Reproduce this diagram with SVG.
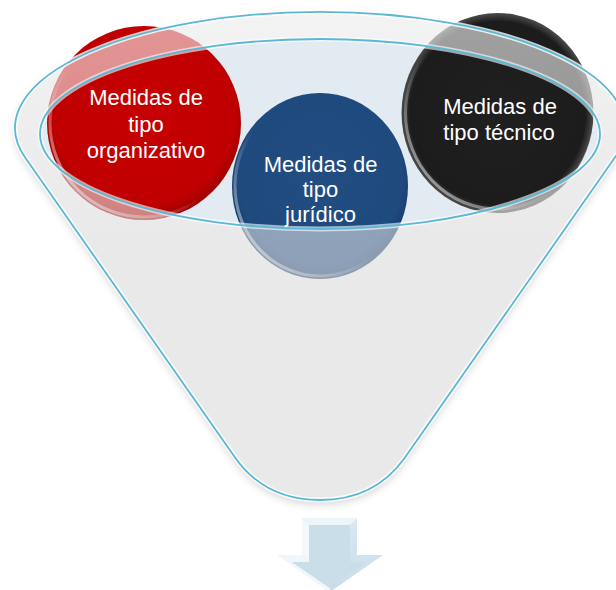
<svg xmlns="http://www.w3.org/2000/svg" width="616" height="590" viewBox="0 0 616 590">
  <defs>
    <style>
      .lbl { font-family: "Liberation Sans", Arial, sans-serif; font-size: 22px; fill: #ffffff; text-anchor: middle; }
      .rim { fill: none; stroke: url(#rimGlow); stroke-width: 3; }
      .outline { fill: none; stroke: #5bb8d4; stroke-width: 1.8; }
      .hilite { fill: none; stroke: #ffffff; stroke-width: 5; }
    </style>
    <radialGradient id="gRed" cx="50%" cy="45%" r="55%">
      <stop offset="0" stop-color="#c60000"/>
      <stop offset="0.85" stop-color="#c00000"/>
      <stop offset="1" stop-color="#9a0000"/>
    </radialGradient>
    <radialGradient id="gBlue" cx="50%" cy="45%" r="55%">
      <stop offset="0" stop-color="#224d82"/>
      <stop offset="0.85" stop-color="#1f4a7e"/>
      <stop offset="1" stop-color="#173a66"/>
    </radialGradient>
    <radialGradient id="gBlack" cx="50%" cy="50%" r="52%">
      <stop offset="0" stop-color="#202020"/>
      <stop offset="0.88" stop-color="#1c1c1c"/>
      <stop offset="0.96" stop-color="#4a4a4a"/>
      <stop offset="1" stop-color="#808080"/>
    </radialGradient>
    <linearGradient id="rimGlow" x1="1" y1="0" x2="0" y2="1">
      <stop offset="0" stop-color="#ffffff" stop-opacity="0"/>
      <stop offset="0.55" stop-color="#ffffff" stop-opacity="0"/>
      <stop offset="1" stop-color="#ffffff" stop-opacity="0.7"/>
    </linearGradient>
    <linearGradient id="band" gradientUnits="userSpaceOnUse" x1="0" y1="12" x2="0" y2="240">
      <stop offset="0" stop-color="#fafafa" stop-opacity="0.6"/>
      <stop offset="1" stop-color="#e9e9e9" stop-opacity="0.55"/>
    </linearGradient>
    <linearGradient id="arrowFace" x1="0" y1="0" x2="0" y2="1">
      <stop offset="0" stop-color="#d9e8f1"/>
      <stop offset="1" stop-color="#c9dde9"/>
    </linearGradient>
    <filter id="shadow" x="-10%" y="-10%" width="120%" height="125%">
      <feDropShadow dx="0" dy="4" stdDeviation="4" flood-color="#000000" flood-opacity="0.18"/>
    </filter>
  </defs>

  <rect width="616" height="590" fill="#ffffff"/>

  <g id="funnel">
    <path id="funnel-body" d="M 25.3,157.8 A 305 116 0 1 1 614.7,157.8 L 404.6,458 C 384,487 355,500 320,500 C 285,500 256,487 235.4,458 Z" fill="#e9e9e9" filter="url(#shadow)"/>
    <ellipse id="funnel-opening" cx="320" cy="134" rx="280" ry="95" fill="#e3ebf2"/>
  </g>

  <g id="node-organizativo">
    <circle cx="144" cy="123" r="97" fill="url(#gRed)"/>
    <circle cx="144" cy="123" r="94" class="rim"/>
    <text class="lbl" x="146" y="105">Medidas de</text>
    <text class="lbl" x="146" y="131.5">tipo</text>
    <text class="lbl" x="146" y="158">organizativo</text>
  </g>

  <g id="node-juridico">
    <ellipse cx="320" cy="186" rx="88" ry="93" fill="url(#gBlue)"/>
    <ellipse cx="320" cy="186" rx="85" ry="90" class="rim"/>
    <text class="lbl" x="320.5" y="172">Medidas de</text>
    <text class="lbl" x="320.5" y="197">tipo</text>
    <text class="lbl" x="320.5" y="222">jurídico</text>
  </g>

  <g id="node-tecnico">
    <ellipse cx="497.5" cy="113" rx="96" ry="100" fill="url(#gBlack)"/>
    <ellipse cx="497.5" cy="113" rx="92" ry="96" class="rim"/>
    <text class="lbl" x="500" y="114">Medidas de</text>
    <text class="lbl" x="499" y="140">tipo técnico</text>
  </g>

  <g id="funnel-front">
    <path d="M 25.3,157.8 A 305 116 0 1 1 614.7,157.8 L 404.6,458 C 384,487 355,500 320,500 C 285,500 256,487 235.4,458 Z M 40,134 A 280 95 0 1 0 600,134 A 280 95 0 1 0 40,134 Z" fill="url(#band)" fill-rule="evenodd"/>
    <path class="hilite" d="M 25.3,157.8 A 305 116 0 1 1 614.7,157.8 L 404.6,458 C 384,487 355,500 320,500 C 285,500 256,487 235.4,458 Z" stroke-opacity="0.8"/>
    <ellipse class="hilite" cx="320" cy="134" rx="280" ry="95" stroke-opacity="0.6"/>
    <path class="outline" d="M 25.3,157.8 A 305 116 0 1 1 614.7,157.8 L 404.6,458 C 384,487 355,500 320,500 C 285,500 256,487 235.4,458 Z"/>
    <ellipse class="outline" cx="320" cy="134" rx="280" ry="95"/>
  </g>

  <g id="arrow">
    <polygon points="302,518 357,518 357,555 383,555 330,592 278,555 302,555" fill="url(#arrowFace)"/>
    <polygon points="302,518 357,518 350,525 309,525" fill="#eef5f9"/>
    <polygon points="302,518 309,525 309,562 302,555" fill="#f3f8fb"/>
    <polygon points="278,555 302,555 309,562 292,562 330,588 330,592" fill="#f0f6fa"/>
    <polygon points="309,525 350,525 350,562 366,562 330,588 292,562 309,562" fill="#cadeea"/>
  </g>
</svg>
